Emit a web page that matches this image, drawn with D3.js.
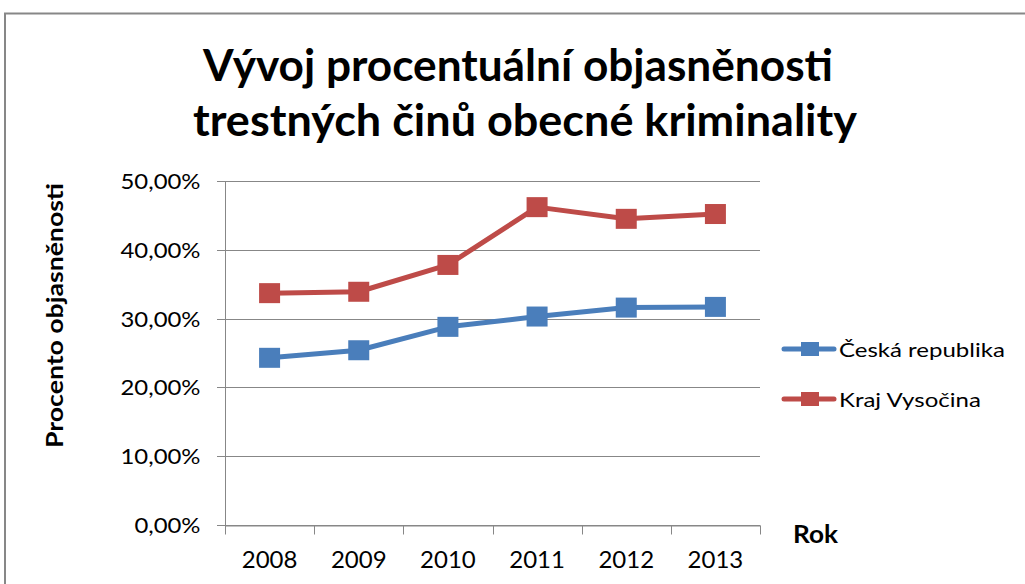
<!DOCTYPE html>
<html><head><meta charset="utf-8">
<script src="https://cdn.jsdelivr.net/npm/d3@7"></script>
<style>body{margin:0;background:#fff}svg{display:block}text{font-family:Lato,"Open Sans",sans-serif;fill:#000}</style>
</head><body>
<script>
const years = ["2008","2009","2010","2011","2012","2013"];
const ceskaRepublika = [24.3, 25.4, 28.8, 30.3, 31.6, 31.7];
const krajVysocina = [33.7, 33.9, 37.8, 46.2, 44.5, 45.2];
const yTicks = [0, 10, 20, 30, 40, 50];
const seriesNames = ["Česká republika", "Kraj Vysočina"];
const colors = ["#4A7EBB", "#BE4B48"];

const W = 1025, H = 584;
const svg = d3.select("body").append("svg").attr("width", W).attr("height", H);

function stretch(sel, k) {
  sel.each(function() { const n = this; n.setAttribute("textLength", n.getComputedTextLength() * k); n.setAttribute("lengthAdjust", "spacingAndGlyphs"); });
}

// outer border
svg.append("path").attr("d", `M5,${H+5}V13.5H${W+5}`).attr("fill","none").attr("stroke","#878787").attr("stroke-width",2);

const x = d3.scaleBand().domain(years).range([225, 760]);
const y = d3.scaleLinear().domain([0, 50]).range([525, 181]);
const grid = "#878787";

// title
const t1 = svg.append("text").attr("x", 518).attr("y", 81).attr("text-anchor","middle").attr("font-weight","bold").style("font-size","43px").text("Vývoj procentuální objasněnosti");
const t2 = svg.append("text").attr("x", 525).attr("y", 136).attr("text-anchor","middle").attr("font-weight","bold").style("font-size","43px").text("trestných činů obecné kriminality");
t1.attr("textLength", 630).attr("lengthAdjust","spacingAndGlyphs");
t2.attr("textLength", 664).attr("lengthAdjust","spacingAndGlyphs");

// gridlines
svg.append("g").selectAll("line").data(yTicks).join("line")
  .attr("x1", 217).attr("x2", 760).attr("y1", d => Math.round(y(d))+0.5).attr("y2", d => Math.round(y(d))+0.5)
  .attr("stroke", grid).attr("stroke-width", 1);

// y axis
const yAxis = svg.append("g").attr("transform","translate(225.5,0)")
  .call(d3.axisLeft(y).tickValues(yTicks).tickSize(0).tickPadding(25).tickFormat(d => d3.format(".2f")(d).replace(".", ",") + "%"));
yAxis.select(".domain").attr("stroke", grid).attr("d", `M0,${y(50)}V533`);
const ytx = yAxis.selectAll("text").style("font-size","21px").style("font-family","Lato,sans-serif").attr("fill","#000").attr("dy","0.36em");
{ const n = ytx.filter(d => d === 50).node(); const k = 80 / n.getComputedTextLength(); stretch(ytx, k); }

// x axis
const xAxis = svg.append("g").attr("transform","translate(0,525.5)")
  .call(d3.axisBottom(x).tickSize(0).tickPadding(0));
xAxis.select(".domain").attr("stroke", grid);
xAxis.selectAll("text").style("font-size","24px").style("font-family","Lato,sans-serif").attr("fill","#000").attr("dy", null).attr("y", 42.5);
const bounds = years.map(d => x(d)).concat([x.range()[1]]);
xAxis.selectAll("line.bt").data(bounds).join("line").attr("class","bt")
  .attr("x1", d => Math.round(d)+0.5).attr("x2", d => Math.round(d)+0.5).attr("y1",0).attr("y2",9).attr("stroke", grid);

// axis titles
svg.append("text").attr("transform","translate(63,315.5) rotate(-90)").attr("text-anchor","middle")
  .attr("font-weight","bold").style("font-size","22px").attr("textLength", 265).attr("lengthAdjust","spacingAndGlyphs").text("Procento objasněnosti");
svg.append("text").attr("x", 793).attr("y", 543).attr("font-weight","bold").style("font-size","24px").attr("textLength", 45).attr("lengthAdjust","spacingAndGlyphs").text("Rok");

// series
const cx = d => x(d) + x.bandwidth()/2;
[ceskaRepublika, krajVysocina].forEach((vals, i) => {
  const pts = years.map((yr, j) => [cx(yr), y(vals[j])]);
  svg.append("path").attr("d", d3.line()(pts)).attr("fill","none")
    .attr("stroke", colors[i]).attr("stroke-width", 5).attr("stroke-linejoin","round").attr("stroke-linecap","round");
  svg.append("g").selectAll("rect").data(pts).join("rect")
    .attr("x", p => p[0]-10.5).attr("y", p => p[1]-10).attr("width", 21).attr("height", 20)
    .attr("fill", colors[i]);
});

// legend
const leg = svg.append("g");
seriesNames.forEach((name, i) => {
  const ly = 349 + i*50;
  leg.append("line").attr("x1", 784).attr("x2", 834).attr("y1", ly).attr("y2", ly)
    .attr("stroke", colors[i]).attr("stroke-width", 5).attr("stroke-linecap","round");
  leg.append("rect").attr("x", 801).attr("y", ly-7).attr("width", 18).attr("height", 14).attr("fill", colors[i]);
  const tx = leg.append("text").attr("x", 839).attr("y", ly + 8).style("font-size","20px").text(name);
  stretch(tx, 1.2);
});
</script>
</body></html>
